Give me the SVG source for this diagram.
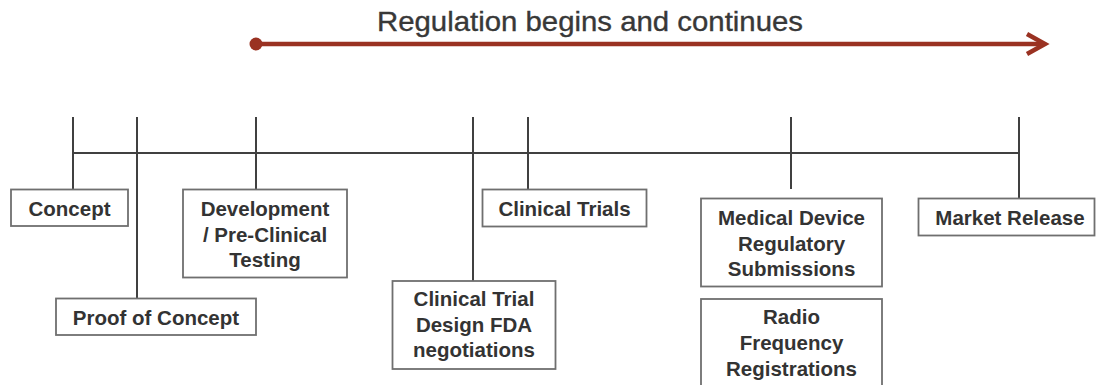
<svg xmlns="http://www.w3.org/2000/svg" width="1098" height="385" viewBox="0 0 1098 385">
<style>
.box{fill:#ffffff;stroke:#6f6f6f;stroke-width:1.8}
.lbl{font-family:"Liberation Sans",Arial,sans-serif;font-weight:bold;font-size:20.5px;fill:#333333;text-anchor:middle}
.tl{stroke:#404040;stroke-width:2;fill:none}
.reg{stroke:#9a3222;stroke-width:4.5;fill:none}
</style>
<rect width="1098" height="385" fill="#ffffff"/>
<g id="title">
<text x="590" y="30.5" font-family="'Liberation Sans',Arial,sans-serif" font-size="27.5" fill="#383838" stroke="#383838" stroke-width="0.35" text-anchor="middle" textLength="426" lengthAdjust="spacingAndGlyphs">Regulation begins and continues</text>
</g>
<g id="regulation-arrow">
<line class="reg" x1="256" y1="44" x2="1044" y2="44"/>
<circle cx="256" cy="44" r="6.5" fill="#9a3222"/>
<polyline class="reg" points="1027,34 1045,44 1027,54" stroke-linejoin="miter" stroke-width="5"/>
</g>
<g id="connectors">
<line class="tl" x1="73" y1="153" x2="1019" y2="153"/>
<line class="tl" x1="73" y1="117" x2="73" y2="189"/>
<line class="tl" x1="137" y1="117" x2="137" y2="298"/>
<line class="tl" x1="256" y1="117" x2="256" y2="189"/>
<line class="tl" x1="473" y1="117" x2="473" y2="281"/>
<line class="tl" x1="528" y1="117" x2="528" y2="189"/>
<line class="tl" x1="791" y1="117" x2="791" y2="189"/>
<line class="tl" x1="1019" y1="117" x2="1019" y2="198"/>
</g>
<g id="concept">
<rect class="box" x="11" y="189.5" width="117" height="36.5"/>
<text class="lbl" x="69.5" y="216">Concept</text>
</g>
<g id="proof-of-concept">
<rect class="box" x="56" y="298.5" width="200" height="36.5"/>
<text class="lbl" x="156" y="324.5">Proof of Concept</text>
</g>
<g id="development">
<rect class="box" x="183" y="189.5" width="164" height="88"/>
<text class="lbl" x="265" y="216">Development</text>
<text class="lbl" x="265" y="241.5">/ Pre-Clinical</text>
<text class="lbl" x="265" y="267">Testing</text>
</g>
<g id="clinical-trial-design">
<rect class="box" x="392.5" y="281" width="163" height="88"/>
<text class="lbl" x="474" y="306">Clinical Trial</text>
<text class="lbl" x="474" y="331.5">Design FDA</text>
<text class="lbl" x="474" y="357">negotiations</text>
</g>
<g id="clinical-trials">
<rect class="box" x="482.5" y="189.5" width="164" height="37"/>
<text class="lbl" x="564.5" y="216">Clinical Trials</text>
</g>
<g id="medical-device">
<rect class="box" x="701" y="198.5" width="181" height="88"/>
<text class="lbl" x="791.5" y="225">Medical Device</text>
<text class="lbl" x="791.5" y="250.5">Regulatory</text>
<text class="lbl" x="791.5" y="276">Submissions</text>
</g>
<g id="radio-frequency">
<rect class="box" x="701" y="299" width="181" height="95"/>
<text class="lbl" x="791.5" y="323.5">Radio</text>
<text class="lbl" x="791.5" y="349.5">Frequency</text>
<text class="lbl" x="791.5" y="375.5">Registrations</text>
</g>
<g id="market-release">
<rect class="box" x="918.5" y="198.5" width="176" height="37"/>
<text class="lbl" x="1010" y="224.5">Market Release</text>
</g>
</svg>
